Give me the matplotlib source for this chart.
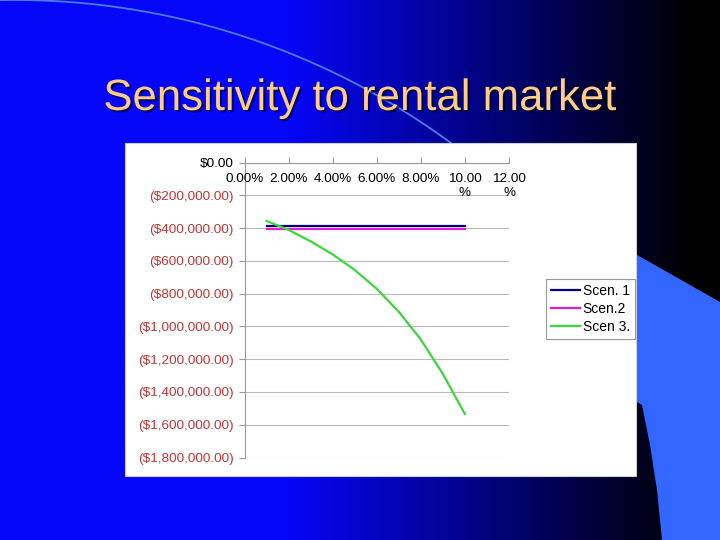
import numpy as np
import matplotlib
matplotlib.use('Agg')
import matplotlib.pyplot as plt
import matplotlib.patheffects as pe
import matplotlib.transforms as mtransforms
from matplotlib.patches import Rectangle, Polygon

plt.rcParams['font.family'] = ['Liberation Sans', 'DejaVu Sans']

# data
rates = [0.01, 0.02, 0.03, 0.04, 0.05, 0.06, 0.07, 0.08, 0.09, 0.10]
scen1 = [-385000, -385000, -385000, -385000, -385000, -385000, -385000, -385000, -385000, -385000]
scen2 = [-402000, -402000, -402000, -402000, -402000, -402000, -402000, -402000, -402000, -402000]
scen3 = [-356000, -410000, -480000, -560000, -655000, -770000, -910000, -1080000, -1290000, -1535000]
series_names = ['Scen. 1', 'Scen.2', 'Scen 3.']
x_ticks = [0.0, 0.02, 0.04, 0.06, 0.08, 0.10, 0.12]
y_ticks = [0, -200000, -400000, -600000, -800000, -1000000, -1200000, -1400000, -1600000, -1800000]
title = 'Sensitivity to rental market'

fig = plt.figure(figsize=(7.2, 5.4), dpi=100)

# slide background (pixel coordinates)
bg = fig.add_axes([0, 0, 1, 1])
bg.set_xlim(0, 720)
bg.set_ylim(540, 0)
bg.axis('off')

t = np.linspace(0, 1, 720)
k = np.clip((0.96 - t) / 0.56, 0, 1)
img = np.zeros((1, 720, 3))
img[0, :, 0] = 0.02 * k
img[0, :, 1] = 0.02 * k
img[0, :, 2] = 0.97 * k
bg.imshow(img, extent=(0, 720, 540, 0), aspect='auto', zorder=0)

# thin decorative arc
ang = np.linspace(np.pi / 2 + 0.03, 0.2, 300)
bg.plot(15 + 736 * np.cos(ang), 736 - 736 * np.sin(ang), color='#4a7cff', lw=1.3, zorder=1)

# light blue shape on the right
shape = [(600, 234), (720, 302), (720, 540), (662, 540), (657, 490), (650, 445),
         (642, 405), (600, 380)]
bg.add_patch(Polygon(shape, closed=True, facecolor='#3366ff', edgecolor='none', zorder=2))

# white chart panel
bg.add_patch(Rectangle((125, 143), 511, 333, facecolor='white', edgecolor='#cfcfcf',
                       lw=0.8, zorder=3))

bg.text(360, 110, title, ha='center', va='baseline', fontsize=31.5, color='#ffcc88',
        zorder=4, path_effects=[pe.withSimplePatchShadow(offset=(1.5, -1.5),
                                                         shadow_rgbFace='black', alpha=0.6)])

# chart
ax = fig.add_axes([244.5 / 720, (540 - 457.5) / 540, 264.5 / 720, 294.8 / 540])
ax.set_facecolor('none')
ax.plot(rates, scen1, color='#000080', lw=1.6, label=series_names[0])
ax.plot(rates, scen2, color='#e020d0', lw=1.6, label=series_names[1])
ax.plot(rates, scen3, color='#3ad83a', lw=1.6, label=series_names[2])
ax.set_xlim(0, 0.12)
ax.set_ylim(-1800000, 0)

for s in ['right', 'bottom']:
    ax.spines[s].set_visible(False)
for s in ['top', 'left']:
    ax.spines[s].set_color('#999999')
    ax.spines[s].set_linewidth(0.8)

ax.xaxis.tick_top()
ax.set_xticks(x_ticks)
ax.tick_params(axis='x', direction='out', length=4, color='#999999', labeltop=False)
trans = mtransforms.blended_transform_factory(ax.transData, ax.transAxes)
trans = mtransforms.offset_copy(trans, fig=fig, y=-10.5, units='dots')
for xv in x_ticks:
    lab = f'{xv * 100:.2f}%'
    if len(lab) > 5:
        lab = lab[:-1] + '\n%'
    ax.text(xv, 1, lab, transform=trans, ha='center', va='top', fontsize=9.7,
            multialignment='center', color='black')

def money(v):
    if v == 0:
        return '$0.00'
    return f'(${abs(v):,.2f})'

ax.set_yticks(y_ticks)
labels = ax.set_yticklabels([money(v) for v in y_ticks])
for lbl, v in zip(labels, y_ticks):
    lbl.set_color('black' if v >= 0 else '#cc3333')
ax.tick_params(axis='y', length=4, color='#999999', pad=4, labelsize=9.7)
ax.yaxis.grid(True, color='#bbbbbb', lw=0.8)
ax.set_axisbelow(True)

h, l = ax.get_legend_handles_labels()
leg = fig.legend(h, l, loc='upper left', bbox_to_anchor=(546 / 720, 1 - 279 / 540),
                 fontsize=10, frameon=True, fancybox=False, edgecolor='#999999',
                 framealpha=1, handlelength=2.1, handletextpad=0.2, borderpad=0.35,
                 labelspacing=0.28, borderaxespad=0)
leg.get_frame().set_linewidth(0.8)

fig.savefig('out.png', dpi=100)
